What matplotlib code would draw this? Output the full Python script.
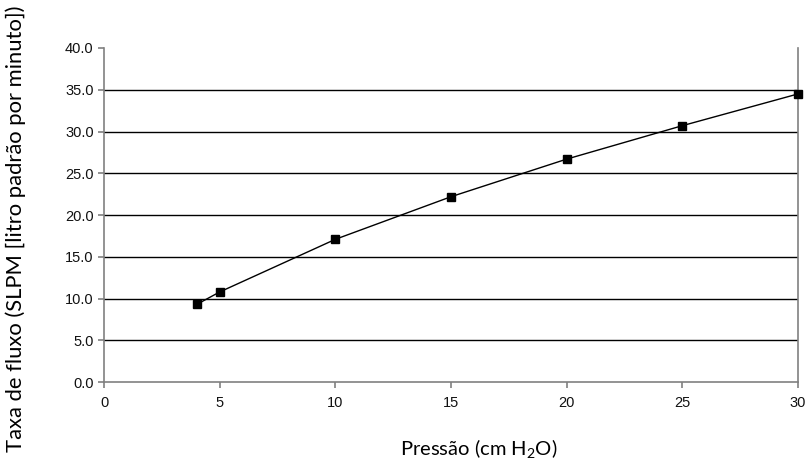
import matplotlib
matplotlib.use('Agg')
import matplotlib.pyplot as plt

# Pressure (cm H2O) vs flow rate (SLPM)
pressure = [4, 5, 10, 15, 20, 25, 30]
flow = [9.3, 10.8, 17.1, 22.2, 26.7, 30.7, 34.5]

x_ticks = [0, 5, 10, 15, 20, 25, 30]
y_ticks = [0, 5, 10, 15, 20, 25, 30, 35, 40]

plt.rcParams['mathtext.fontset'] = 'custom'
plt.rcParams['mathtext.rm'] = 'Lato'

fig = plt.figure(figsize=(8.07, 4.61), dpi=100)
ax = fig.add_axes([0.129, 0.171, 0.860, 0.725])

# horizontal gridlines
for y in y_ticks[1:-1]:
    ax.axhline(y, color='black', linewidth=1.0, zorder=1)

ax.plot(pressure, flow, color='black', linewidth=1.0, marker='s',
        markersize=6, markerfacecolor='black', zorder=3, clip_on=False)

ax.set_xlim(0, 30)
ax.set_ylim(0, 40)
ax.set_xticks(x_ticks)
ax.set_yticks(y_ticks)
ax.set_yticklabels([f'{v:.1f}' for v in y_ticks])

for s in ['left', 'right', 'bottom']:
    ax.spines[s].set_color('#808080')
    ax.spines[s].set_linewidth(1.2)
ax.spines['top'].set_visible(False)

ax.tick_params(axis='both', colors='#808080', labelcolor='#111111',
               length=4, width=1.2, direction='out', labelsize=10.5)
ax.tick_params(axis='x', pad=6)
for lbl in ax.get_xticklabels() + ax.get_yticklabels():
    lbl.set_family('Liberation Sans')

ax.set_xlabel('Pressão (cm H$_2$O)', fontsize=14.5, family='Lato')
ax.set_ylabel('Taxa de fluxo (SLPM [litro padrão por minuto])',
              fontsize=15.8, family='Lato')
ax.xaxis.set_label_coords(0.54, -0.165)
ax.yaxis.set_label_coords(-0.112, 0.46)

fig.savefig('out.png', dpi=100)
